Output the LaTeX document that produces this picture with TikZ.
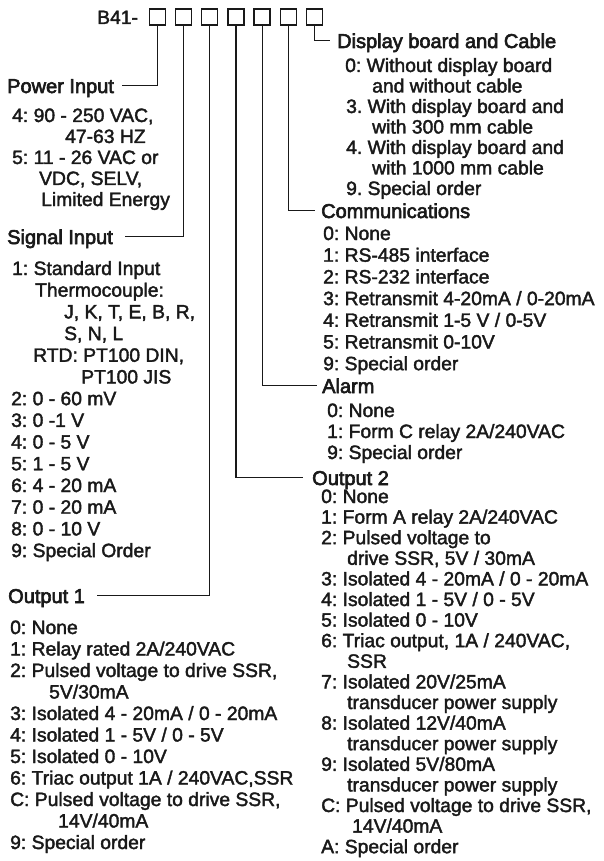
\documentclass[tikz,border=0pt]{standalone}
\usepackage{fontspec}
\setmainfont{Liberation Sans}
\newfontfamily\itemfam[FakeBold=2.0]{Liberation Sans}
\newfontfamily\headfam[FakeBold=3.0]{Liberation Sans}
\newcommand\itemfont{\itemfam\frenchspacing\fontsize{19.3}{21}\selectfont}
\newcommand\headfont{\headfam\frenchspacing\fontsize{20}{22}\selectfont}
\newcommand\itemblock[5]{%
  \foreach \dx/\txt [count=\i from 0] in {#5}{%
    \node[itm] (#1\i) at ({#2+\dx},{#3+#4*\i}) {\txt};}}
\begin{document}
\begin{tikzpicture}[x=1pt,y=-1pt,
  itm/.style={anchor=base west, inner sep=0pt, font=\itemfont, text=black!90},
  head/.style={anchor=base west, inner sep=0pt, font=\headfont, text=black!90,
    text height=14.3pt, text depth=0pt},
  codebox/.style={draw=black!90, line width=1.3pt, minimum width=16pt,
    minimum height=16pt, inner sep=0pt},
  conn/.style={draw=black!90, line width=1.1pt}]
\useasboundingbox (0,0) rectangle (603,861);

% code line
\node[itm] (code) at (97,24) {B41-};
\foreach \k in {1,...,7}
  \node[codebox] (b\k) at ({157.5+26.15*(\k-1)},17) {};

% headings
\node[head] (hpow)  at (7,93)    {Power Input};
\node[head] (hsig)  at (7,244)   {Signal Input};
\node[head] (hout1) at (8,603)   {Output 1};
\node[head] (hdisp) at (337,48)  {Display board and Cable};
\node[head] (hcom)  at (321,218) {Communications};
\node[head] (halm)  at (322,393) {Alarm};
\node[head] (hout2) at (312,485) {Output 2};

% connectors
\draw[conn] (b1.south) |- ([xshift=8pt]hpow.east);
\draw[conn] (b2.south) |- ([xshift=12pt]hsig.east);
\draw[conn] (b3.south) |- ([xshift=12pt]hout1.east);
\draw[conn] (b4.south) |- ([xshift=-9pt]hout2.west);
\draw[conn] (b5.south) |- ([xshift=-5pt]halm.west);
\draw[conn] (b6.south) |- ([xshift=-6pt]hcom.west);
\draw[conn] (b7.south) |- ([xshift=-7pt]hdisp.west);

% Power Input items
\itemblock{pw}{12}{122}{21}{0/{4: 90 - 250 VAC,}, 53/{47-63 HZ},
  0/{5: 11 - 26 VAC or}, 27/{VDC, SELV,}, 29/{Limited Energy}}

% Signal Input items
\itemblock{sg}{12}{275}{21.7}{0/{1: Standard Input}, 23/{Thermocouple:},
  52/{J, K, T, E, B, R,}, 52/{S, N, L}, 21/{RTD: PT100 DIN,}, 69/{PT100 JIS},
  -1/{2: 0 - 60 mV}, -1/{3: 0 -1 V}, -1/{4: 0 - 5 V}, -1/{5: 1 - 5 V},
  -1/{6: 4 - 20 mA}, -1/{7: 0 - 20 mA}, -1/{8: 0 - 10 V}, -1/{9: Special Order}}

% Output 1 items
\itemblock{oa}{10}{634}{21.5}{0/{0: None}, 0/{1: Relay rated 2A/240VAC},
  0/{2: Pulsed voltage to drive SSR,}, 39/{5V/30mA},
  0/{3: Isolated 4 - 20mA / 0 - 20mA}, 0/{4: Isolated 1 - 5V / 0 - 5V},
  0/{5: Isolated 0 - 10V}, 0/{6: Triac output 1A / 240VAC,SSR},
  0/{C: Pulsed voltage to drive SSR,}, 48/{14V/40mA}, 0/{9: Special order}}

% Display board items
\itemblock{dp}{345}{72}{20.5}{0/{0: Without display board}, 27/{and without cable},
  1/{3. With display board and}, 27/{with 300 mm cable},
  1/{4. With display board and}, 27/{with 1000 mm cable}, 1/{9. Special order}}

% Communications items
\itemblock{cm}{323}{240}{21.7}{0/{0: None}, 0/{1: RS-485 interface},
  0/{2: RS-232 interface}, 0/{3: Retransmit 4-20mA / 0-20mA},
  0/{4: Retransmit 1-5 V / 0-5V}, 0/{5: Retransmit 0-10V}, 0/{9: Special order}}

% Alarm items
\itemblock{al}{327}{417}{21}{0/{0: None}, 0/{1: Form C relay 2A/240VAC},
  0/{9: Special order}}

% Output 2 items
\itemblock{ob}{321}{503}{20.6}{0/{0: None}, 0/{1: Form A relay 2A/240VAC},
  0/{2: Pulsed voltage to}, 26/{drive SSR, 5V / 30mA},
  0/{3: Isolated 4 - 20mA / 0 - 20mA}, 0/{4: Isolated 1 - 5V / 0 - 5V},
  0/{5: Isolated 0 - 10V}, 0/{6: Triac output, 1A / 240VAC,}, 26/{SSR},
  0/{7: Isolated 20V/25mA}, 26/{transducer power supply},
  0/{8: Isolated 12V/40mA}, 26/{transducer power supply},
  0/{9: Isolated 5V/80mA}, 26/{transducer power supply},
  0/{C: Pulsed voltage to drive SSR,}, 31/{14V/40mA}, 0/{A: Special order}}
\end{tikzpicture}
\end{document}
